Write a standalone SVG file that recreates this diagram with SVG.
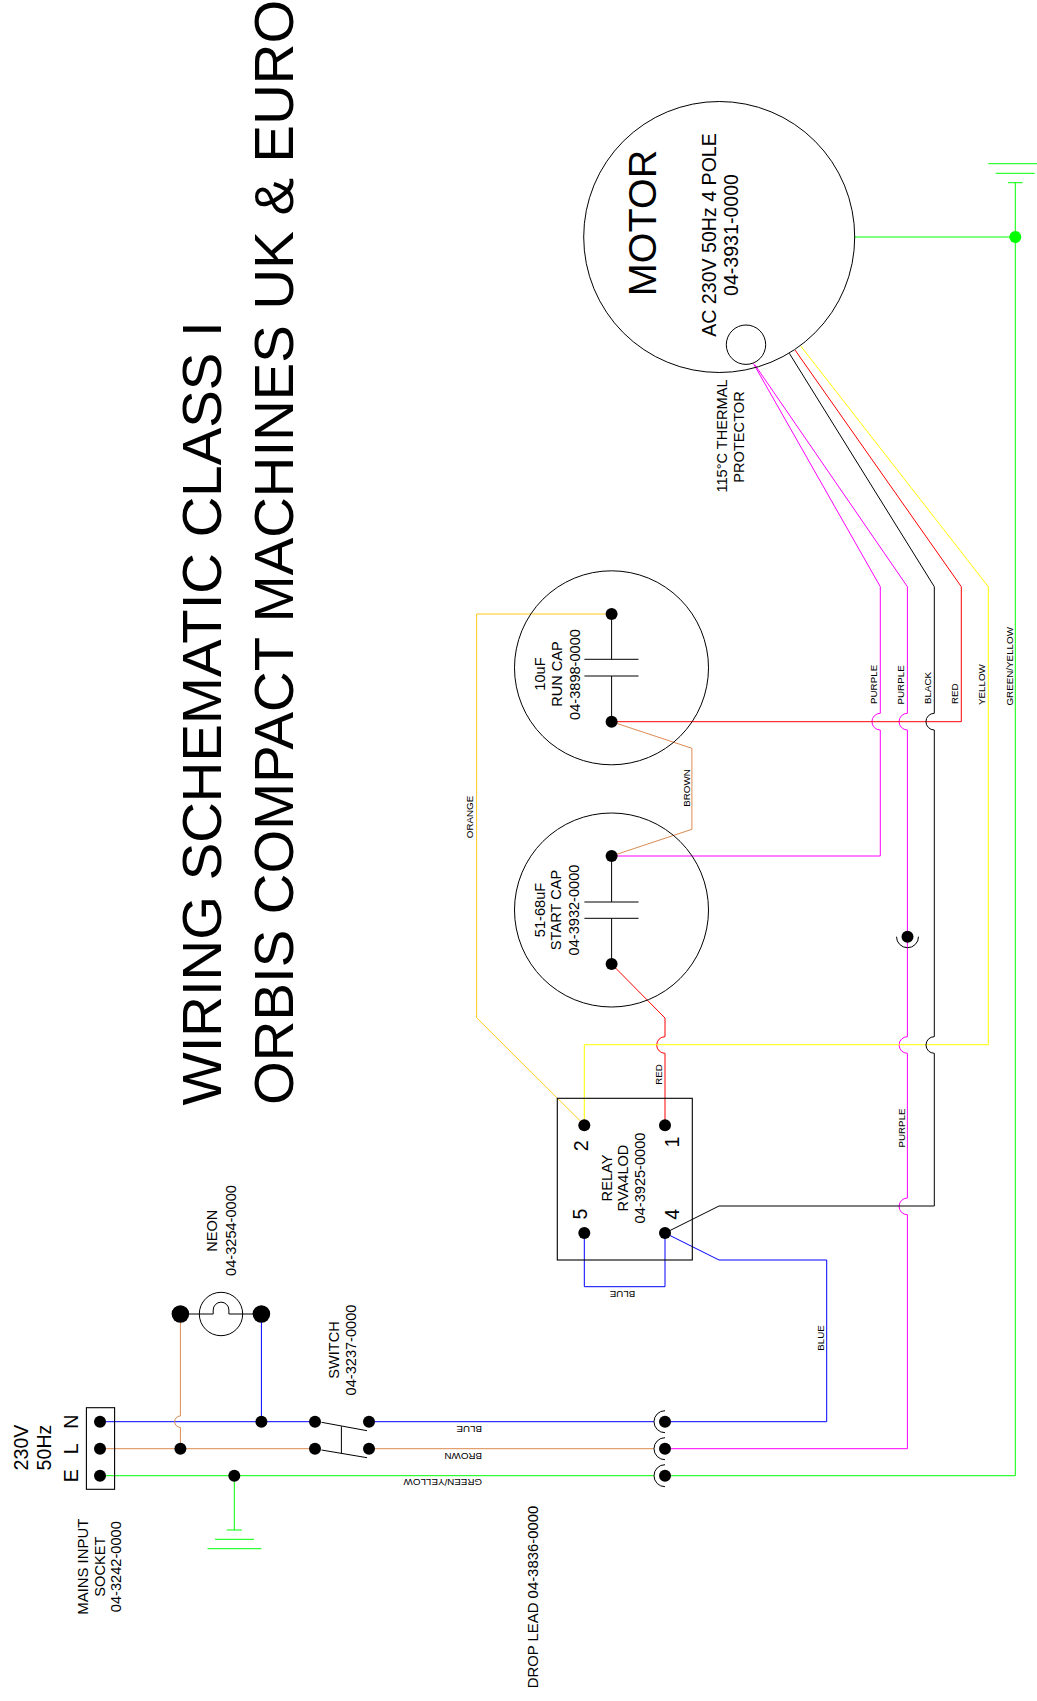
<svg xmlns="http://www.w3.org/2000/svg" width="1037" height="1701" viewBox="0 0 1037 1701">
<style>
text{font-family:"Liberation Sans",Arial,sans-serif;fill:#000;text-anchor:middle}
.t56{font-size:56.3px}.t38{font-size:39.5px}.t20{font-size:19.6px}.t15{font-size:14.6px}.t10{font-size:9.8px}
.st{text-anchor:start}
.w{fill:none;stroke-width:1;stroke-linejoin:round}
.k{fill:none;stroke:#000;stroke-width:1}
.d{fill:#000}
.blue{stroke:#0000ff}.brown{stroke:#dc8a50}.orange{stroke:#ffc91f}.green{stroke:#00ff00}.mag{stroke:#ff00ff}.red{stroke:#ff0000}.yel{stroke:#ffff00}.blk{stroke:#000}
.box{fill:none;stroke:#000;stroke-width:1.1}
</style>
<g id="title">
<text class="t56 st" transform="translate(221,1105.5) rotate(-90)">WIRING SCHEMATIC CLASS I</text>
<text class="t56 st" transform="translate(293.3,1105) rotate(-90)">ORBIS COMPACT MACHINES UK &amp; EURO</text>
</g>
<g id="connectors">
<path class="w blue" d="M100 1421.7H315M369 1421.7H654"/>
<path class="w blue" d="M665 1421.7H826.7V1260H719L665 1233"/>
<path class="w blue" d="M584.3 1233V1286.7H665V1233"/>
<path class="w blue" d="M261.4 1314V1421.7"/>
<path class="w brown" d="M100 1448.7H315M369 1448.7H654"/>
<path class="w brown" d="M180.4 1314V1416A5.7 5.7 0 0 0 180.4 1427.4V1448.7"/>
<path class="w brown" d="M611.6 721.7L691.9 748.3V829.3L611.6 856"/>
<path class="w green" d="M100 1475.7H654M665 1475.7H1015.3V182.7"/>
<path class="w green" d="M234.3 1475.7V1530"/>
<path class="w green" d="M854.7 237H1015.3"/>
<path class="w mag" d="M665 1448.7H907.4V1214.7A8.3 8.3 0 0 1 907.4 1198V1053.3A8.3 8.3 0 0 1 907.4 1036.7V730A8.3 8.3 0 0 1 907.4 713.3V586.7L755 365"/>
<path class="w mag" d="M611.6 856H880.3V730A8.3 8.3 0 0 1 880.3 713.3V586.7L753.3 363.3"/>
<path class="w red" d="M611.6 721.7H961.3V586.7L795 350"/>
<path class="w red" d="M611.6 964L665 1018V1036.7A8.3 8.3 0 0 0 665 1053.3V1125.3"/>
<path class="w yel" d="M584.3 1125.3V1044.7H988.3V586.7L800.7 346"/>
<path class="w orange" d="M611.6 614H476.6V1017.7L580 1120.7"/>
<path class="w blk" d="M665 1233L719 1206H934.3V1053.3A8.3 8.3 0 0 1 934.3 1036.7V730A8.3 8.3 0 0 1 934.3 713.3V586.7L789.3 353.3"/>
</g>
<g id="supply-label">
<text class="t20" transform="translate(27.7,1447.5) rotate(-90)">230V</text>
<text class="t20" transform="translate(50.7,1447.5) rotate(-90)">50Hz</text>
</g>
<g id="mains-socket">
<rect class="box" x="86.4" y="1407.7" width="28.2" height="81.6"/>
<circle class="d" cx="100" cy="1421.7" r="6"/><circle class="d" cx="100" cy="1448.7" r="6"/><circle class="d" cx="100" cy="1475.7" r="6"/>
<text class="t20" transform="translate(78.2,1421.7) rotate(-90)">N</text>
<text class="t20" transform="translate(78.2,1448.7) rotate(-90)">L</text>
<text class="t20" transform="translate(78.2,1475.7) rotate(-90)">E</text>
<text class="t15" transform="translate(87.5,1566.7) rotate(-90)" style="font-size:14.9px">MAINS INPUT</text>
<text class="t15" transform="translate(105,1566.7) rotate(-90)">SOCKET</text>
<text class="t15" transform="translate(121.4,1566.7) rotate(-90)">04-3242-0000</text>
</g>
<g id="neon">
<circle class="k" cx="221" cy="1314" r="21.7"/>
<path class="k" d="M180.4 1314H213.2V1310A7.8 7.8 0 0 1 228.9 1310V1314H261.4"/>
<circle class="d" cx="180.4" cy="1314" r="8.8"/><circle class="d" cx="261.4" cy="1314" r="8.8"/>
<text class="t15" transform="translate(217.3,1230.7) rotate(-90)">NEON</text>
<text class="t15" transform="translate(235.6,1230.5) rotate(-90)">04-3254-0000</text>
</g>
<g id="switch">
<circle class="d" cx="315" cy="1421.7" r="6"/><circle class="d" cx="315" cy="1448.7" r="6"/><circle class="d" cx="369" cy="1421.7" r="6"/><circle class="d" cx="369" cy="1448.7" r="6"/>
<path class="k" d="M321.5 1422.3L367 1430.7M321.5 1450L367 1457.7M341.4 1426.3V1453.3"/>
<text class="t15" transform="translate(338.6,1350) rotate(-90)">SWITCH</text>
<text class="t15" transform="translate(356,1350) rotate(-90)">04-3237-0000</text>
</g>
<g id="junctions">
<circle class="d" cx="261.4" cy="1421.7" r="6"/><circle class="d" cx="180.4" cy="1448.7" r="6"/><circle class="d" cx="234.3" cy="1475.7" r="6"/>
</g>
<g id="earth-socket">
<path class="w green" d="M226.8 1530H241.8M215 1539.3H254M207.5 1548.7H261.4"/>
</g>
<g id="drop-lead">
<circle class="d" cx="665" cy="1421.7" r="6"/><circle class="d" cx="665" cy="1448.7" r="6"/><circle class="d" cx="665" cy="1475.7" r="6"/>
<path class="k" d="M665 1410.7A11 11 0 0 0 665 1432.7M665 1437.7A11 11 0 0 0 665 1459.7M665 1464.7A11 11 0 0 0 665 1486.7"/>
<text class="t15" transform="translate(537.5,1597) rotate(-90)" style="font-size:14.9px">DROP LEAD 04-3836-0000</text>
</g>
<g id="relay">
<rect class="box" x="557.3" y="1098.3" width="135" height="161.7"/>
<circle class="d" cx="584.3" cy="1125.3" r="6"/><circle class="d" cx="665" cy="1125.3" r="6"/><circle class="d" cx="584.3" cy="1233" r="6"/><circle class="d" cx="665" cy="1233" r="6"/>
<text class="t20" transform="translate(588.3,1145.7) rotate(-90)">2</text>
<text class="t20" transform="translate(679,1142) rotate(-90)">1</text>
<text class="t20" transform="translate(587.3,1214) rotate(-90)">5</text>
<text class="t20" transform="translate(679,1214.3) rotate(-90)">4</text>
<text class="t15" transform="translate(611.7,1178) rotate(-90)">RELAY</text>
<text class="t15" transform="translate(628.3,1178) rotate(-90)">RVA4LOD</text>
<text class="t15" transform="translate(645,1178) rotate(-90)">04-3925-0000</text>
</g>
<g id="run-cap">
<circle class="k" cx="611.5" cy="667.8" r="97"/>
<path class="k" d="M611.6 614V659.3M584.4 659.3H638.5M584.4 676H638.5M611.6 676V721.7"/>
<circle class="d" cx="611.6" cy="614" r="6"/><circle class="d" cx="611.6" cy="721.7" r="6"/>
<text class="t15" transform="translate(545.4,674) rotate(-90)">10uF</text>
<text class="t15" transform="translate(562,674) rotate(-90)">RUN CAP</text>
<text class="t15" transform="translate(579.6,674.5) rotate(-90)">04-3898-0000</text>
</g>
<g id="start-cap">
<circle class="k" cx="611.5" cy="910" r="97"/>
<path class="k" d="M611.6 856V902M584.4 902H638.5M584.4 918.3H638.5M611.6 918.3V964"/>
<circle class="d" cx="611.6" cy="856" r="6"/><circle class="d" cx="611.6" cy="964" r="6"/>
<text class="t15" transform="translate(544.6,910) rotate(-90)">51-68uF</text>
<text class="t15" transform="translate(561,910) rotate(-90)">START CAP</text>
<text class="t15" transform="translate(578.5,910) rotate(-90)">04-3932-0000</text>
</g>
<g id="motor">
<circle class="k" cx="719.2" cy="237" r="135.5"/>
<circle class="k" cx="746" cy="344.7" r="19.7"/>
<text class="t38" transform="translate(656,223) rotate(-90)">MOTOR</text>
<text class="t20" transform="translate(715.7,235) rotate(-90)">AC 230V 50Hz 4 POLE</text>
<text class="t20" transform="translate(738.3,235) rotate(-90)">04-3931-0000</text>
<text class="t15" transform="translate(726.7,436) rotate(-90)">115°C THERMAL</text>
<text class="t15" transform="translate(744,437) rotate(-90)">PROTECTOR</text>
</g>
<g id="chassis-connector">
<circle class="d" cx="907.5" cy="936.7" r="6"/>
<path class="k" d="M896.5 936.7A11 11 0 0 0 918.5 936.7"/>
</g>
<g id="earth-motor">
<circle cx="1015.3" cy="237" r="6" fill="#00ff00"/>
<path class="w green" d="M1008 182.7H1022.7M995.7 173.3H1034.7M988.3 163.7H1037"/>
</g>
<g id="wire-labels">
<text class="t10 st" transform="translate(482,1425.5) rotate(180)">BLUE</text>
<text class="t10 st" transform="translate(482,1452.7) rotate(180)">BROWN</text>
<text class="t10 st" transform="translate(482,1479) rotate(180)">GREEN/YELLOW</text>
<text class="t10" transform="translate(622.5,1290.7) rotate(180)">BLUE</text>
<text class="t10" transform="translate(824,1338) rotate(-90)">BLUE</text>
<text class="t10" transform="translate(904.7,1128) rotate(-90)">PURPLE</text>
<text class="t10" transform="translate(661.5,1074.5) rotate(-90)">RED</text>
<text class="t10" transform="translate(689.7,788) rotate(-90)">BROWN</text>
<text class="t10" transform="translate(472.7,817) rotate(-90)">ORANGE</text>
<text class="t10 st" transform="translate(876.8,704) rotate(-90)">PURPLE</text>
<text class="t10 st" transform="translate(904,704.5) rotate(-90)">PURPLE</text>
<text class="t10 st" transform="translate(931,704) rotate(-90)">BLACK</text>
<text class="t10 st" transform="translate(957.7,704) rotate(-90)">RED</text>
<text class="t10 st" transform="translate(985,705) rotate(-90)">YELLOW</text>
<text class="t10 st" transform="translate(1012.7,705.5) rotate(-90)">GREEN/YELLOW</text>
</g>
</svg>
